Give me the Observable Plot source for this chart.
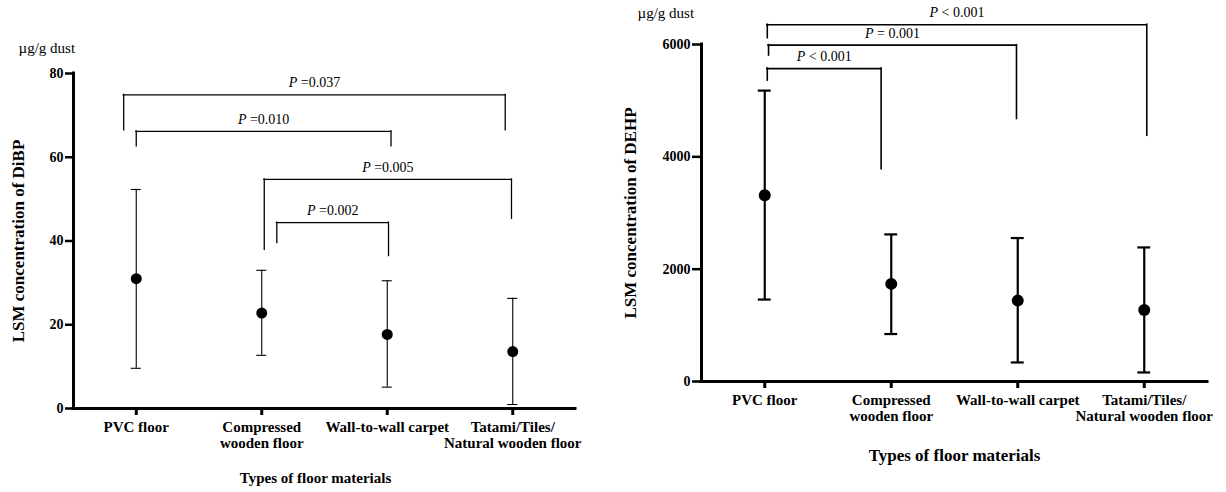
<!DOCTYPE html>
<html>
<head>
<meta charset="utf-8">
<script src="https://cdn.jsdelivr.net/npm/d3@7"></script>
<script src="https://cdn.jsdelivr.net/npm/@observablehq/plot@0.6"></script>
<style>
  body { margin: 0; background: #fff; }
  #wrap { position: relative; width: 1226px; height: 492px; overflow: hidden; background: #fff; }
  #wrap svg { position: absolute; top: 0; }
</style>
</head>
<body>
<div id="wrap"></div>
<script>
// Floor material categories (shared by both panels)
const categories = [
  "PVC floor",
  "Compressed\nwooden floor",
  "Wall-to-wall carpet",
  "Tatami/Tiles/\nNatural wooden floor"
];

// DiBP: least-squares means with lower / upper limits (µg/g dust)
const dibpMean  = [31.0, 22.8, 17.7, 13.6];
const dibpLower = [9.6, 12.7, 5.1, 0.95];
const dibpUpper = [52.3, 33.0, 30.5, 26.3];
const dibpTicks = [0, 20, 40, 60, 80];

// DEHP: least-squares means with lower / upper limits (µg/g dust)
const dehpMean  = [3316, 1738, 1440, 1274];
const dehpLower = [1459, 845, 339, 161];
const dehpUpper = [5179, 2619, 2554, 2387];
const dehpTicks = [0, 2000, 4000, 6000];

// Pairwise comparisons: bracket span (category index), bracket height,
// where each leg stops, and the P value
const dibpTests = [
  { from: -0.10, to: 2.94, top: 74.9, endFrom: 66.4, endTo: 66.4, p: "P =0.037" },
  { from: 0.00,  to: 2.03, top: 66.2, endFrom: 62.6, endTo: 62.6, p: "P =0.010" },
  { from: 1.02,  to: 2.99, top: 54.7, endFrom: 37.9, endTo: 45.3, p: "P =0.005" },
  { from: 1.12,  to: 2.01, top: 44.4, endFrom: 39.5, endTo: 36.4, p: "P =0.002" }
];
const dehpTests = [
  { from: 0.02, to: 3.02, top: 6352, endFrom: 6113, endTo: 4375, p: "P < 0.001" },
  { from: 0.03, to: 1.99, top: 5988, endFrom: 5804, endTo: 4673, p: "P = 0.001" },
  { from: 0.02, to: 0.92, top: 5571, endFrom: 5357, endTo: 3780, p: "P < 0.001" }
];

const serif = "'Liberation Serif', 'Times New Roman', Times, serif";

function panel(o) {
  const rows = categories.map((c, i) => ({ i, mean: o.mean[i], lo: o.lower[i], hi: o.upper[i] }));
  const yMax = o.ticks[o.ticks.length - 1];
  const svg = Plot.plot({
    width: o.width,
    height: 492,
    marginLeft: o.marginLeft,
    marginRight: o.marginRight,
    marginTop: o.marginTop,
    marginBottom: o.marginBottom,
    style: { fontFamily: serif, background: "white", color: "black" },
    x: { type: "linear", domain: [-0.5, 3.5], axis: null },
    y: { domain: [0, yMax], axis: null },
    marks: [
      // axis lines
      Plot.ruleX([-0.5], { y1: 0, y2: yMax, strokeWidth: 3, strokeLinecap: "square" }),
      Plot.ruleY([0], { x1: -0.5, x2: 3.5, strokeWidth: 3, strokeLinecap: "square" }),
      Plot.axisY(o.ticks, {
        tickFormat: (d) => String(d),
        tickSize: o.yTickSize, tickPadding: 2, strokeWidth: 2.5,
        fontSize: 14, fontWeight: "bold", label: null
      }),
      Plot.axisX([0, 1, 2, 3], {
        tickFormat: (i) => categories[i], tickSize: 7, tickPadding: 4, strokeWidth: 3,
        fontSize: 15, fontWeight: "bold", lineHeight: 1.13, label: null
      }),
      // error bars
      Plot.ruleX(rows, { x: "i", y1: "lo", y2: "hi", strokeWidth: o.barWidth }),
      Plot.ruleY(rows, { y: "hi", x1: (d) => d.i - o.capHalf, x2: (d) => d.i + o.capHalf, strokeWidth: o.barWidth }),
      Plot.ruleY(rows, { y: "lo", x1: (d) => d.i - o.capHalf, x2: (d) => d.i + o.capHalf, strokeWidth: o.barWidth }),
      Plot.dot(rows, { x: "i", y: "mean", r: o.dotR, fill: "black" }),
      // significance brackets
      Plot.ruleY(o.tests, { y: "top", x1: "from", x2: "to", strokeWidth: o.bracketWidth, strokeLinecap: "square" }),
      Plot.ruleX(o.tests, { x: "from", y1: "endFrom", y2: "top", strokeWidth: o.bracketWidth, strokeLinecap: "square" }),
      Plot.ruleX(o.tests, { x: "to", y1: "endTo", y2: "top", strokeWidth: o.bracketWidth, strokeLinecap: "square" }),
      Plot.text(o.tests, {
        x: (d) => (d.from + d.to) / 2, y: "top", text: "p", dy: -12,
        fontSize: 14, fontWeight: "normal"
      }),
      // titles
      Plot.text([o.yTitle], {
        text: (d) => d, frameAnchor: "left", textAnchor: "middle", lineAnchor: "middle",
        dx: o.yTitleDx, rotate: -90, fontSize: 17, fontWeight: "bold"
      }),
      Plot.text([o.xTitle], {
        text: (d) => d, frameAnchor: "bottom", textAnchor: "middle", lineAnchor: "middle",
        dx: o.xTitleDx, dy: o.xTitleDy, fontSize: o.xTitleSize, fontWeight: "bold"
      }),
      Plot.text(["µg/g dust"], {
        text: (d) => d, frameAnchor: "top-left", textAnchor: "start", lineAnchor: "middle",
        dx: o.unitDx, dy: o.unitDy, fontSize: 15
      })
    ]
  });
  // italic "P" in the comparison labels
  svg.querySelectorAll("text").forEach((t) => {
    if (t.querySelector("tspan")) return;
    const m = /^P(\s*[=<].*)$/.exec(t.textContent);
    if (!m) return;
    t.textContent = "";
    const a = document.createElementNS("http://www.w3.org/2000/svg", "tspan");
    a.setAttribute("font-style", "italic");
    a.textContent = "P";
    const b = document.createElementNS("http://www.w3.org/2000/svg", "tspan");
    b.textContent = m[1];
    t.append(a, b);
  });
  svg.style.left = o.left + "px";
  return svg;
}

const wrap = document.getElementById("wrap");

wrap.append(panel({
  left: 0, width: 600,
  marginLeft: 73, marginRight: 25, marginTop: 73, marginBottom: 84,
  mean: dibpMean, lower: dibpLower, upper: dibpUpper, ticks: dibpTicks, tests: dibpTests,
  yTickSize: 8, barWidth: 1.1, capHalf: 0.04, dotR: 5.5, bracketWidth: 1.3,
  yTitle: "LSM concentration of DiBP", yTitleDx: -55,
  xTitle: "Types of floor materials", xTitleDx: -9, xTitleDy: 70, xTitleSize: 15,
  unitDx: -55, unitDy: -25
}));

wrap.append(panel({
  left: 600, width: 626,
  marginLeft: 101, marginRight: 19, marginTop: 44, marginBottom: 111,
  mean: dehpMean, lower: dehpLower, upper: dehpUpper, ticks: dehpTicks, tests: dehpTests,
  yTickSize: 9, barWidth: 2.2, capHalf: 0.051, dotR: 6, bracketWidth: 1.6,
  yTitle: "LSM concentration of DEHP", yTitleDx: -71,
  xTitle: "Types of floor materials", xTitleDx: 0, xTitleDy: 74, xTitleSize: 17,
  unitDx: -64, unitDy: -31
}));
</script>
</body>
</html>
